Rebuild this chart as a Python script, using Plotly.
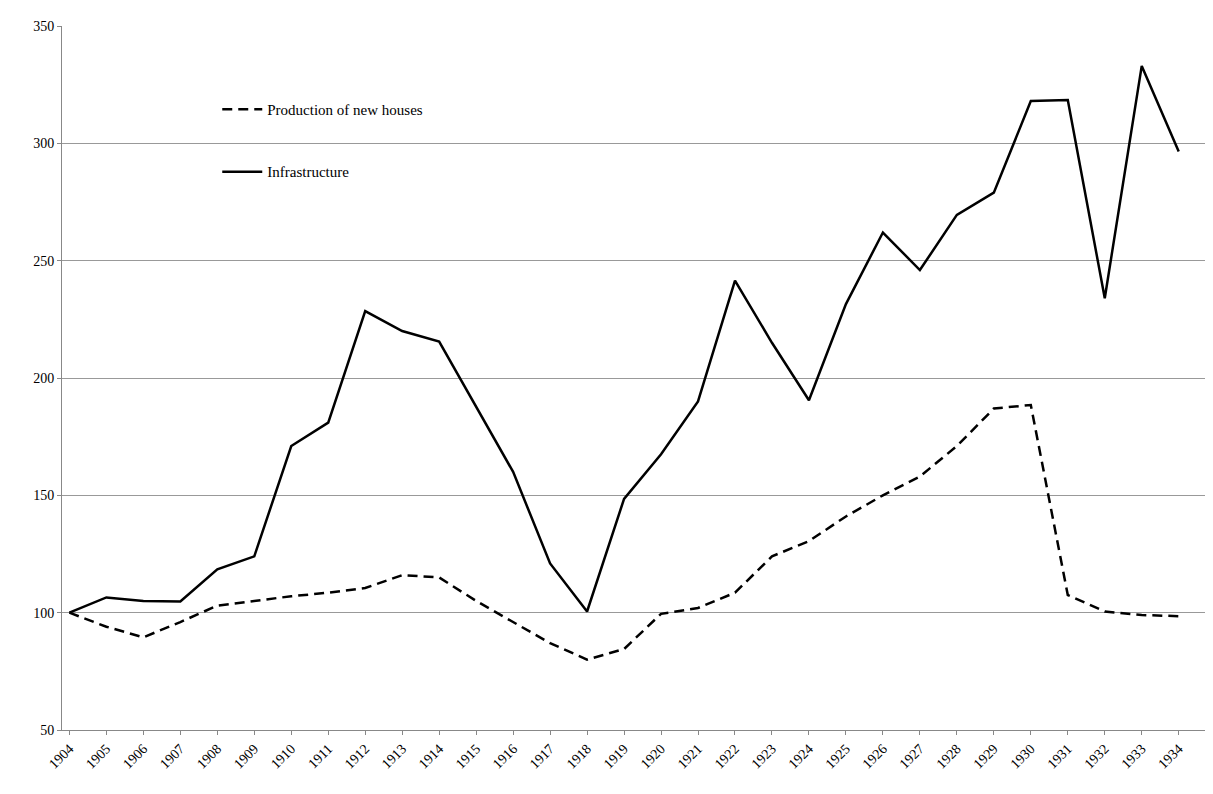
import plotly.graph_objects as go

# Data
years = list(range(1904, 1935))
houses = [100, 94, 89.5, 96, 103, 105, 107, 108.5, 110.5, 116, 115, 105, 96, 87, 80, 84.5,
          99.5, 102, 108.5, 124, 130.5, 141, 150, 158, 171, 187, 188.5, 107.5, 100.5, 99, 98.5]
infrastructure = [100, 106.5, 105, 104.8, 118.5, 124, 171, 181, 228.5, 220, 215.5, 188, 160,
                  121, 100.5, 148.5, 167.5, 190, 241.5, 215, 190.5, 231.5, 262, 246, 269.5,
                  279, 318, 318.5, 234, 333, 296.5]

fig = go.Figure()
fig.add_trace(go.Scatter(x=years, y=houses, mode="lines", name="Production of new houses",
                         legendgroup="a",
                         line=dict(color="black", width=2.5, dash="10px,6px")))
fig.add_trace(go.Scatter(x=years, y=infrastructure, mode="lines", name="Infrastructure",
                         legendgroup="b",
                         line=dict(color="black", width=2.5)))

fig.update_layout(
    width=1213, height=794,
    margin=dict(l=54, r=9, t=18, b=72, autoexpand=False),
    plot_bgcolor="white", paper_bgcolor="white",
    font=dict(family="Liberation Serif", size=14, color="black"),
    legend=dict(x=0.135, y=0.905, bgcolor="rgba(0,0,0,0)", tracegroupgap=40,
                font=dict(size=15), itemwidth=40),
    xaxis=dict(range=[1903.8, 1934.9], tickvals=years, ticktext=[str(y) for y in years],
               tickangle=-45, showgrid=False, showline=True, linecolor="#888",
               ticks="outside", ticklen=4, tickcolor="#888", automargin=False),
    yaxis=dict(range=[50, 350], dtick=50, showgrid=True, gridcolor="#999",
               showline=True, linecolor="#888", ticks="outside", ticklen=4,
               tickcolor="#888", zeroline=False, automargin=False),
)
fig.write_html("out.html")
